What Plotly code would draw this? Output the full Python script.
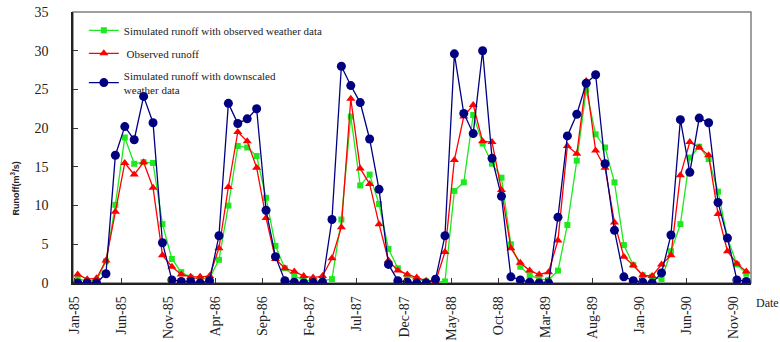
import plotly.graph_objects as go

tick_labels = ["Jan-85", "Jun-85", "Nov-85", "Apr-86", "Sep-86", "Feb-87", "Jul-87",
               "Dec-87", "May-88", "Oct-88", "Mar-89", "Aug-89", "Jan-90", "Jun-90", "Nov-90"]

sim_observed = [0.5, 0.3, 0.3, 2.8, 10.1, 18.8, 15.4, 15.6, 15.5, 7.6, 3.1, 1.4,
                0.7, 0.5, 0.6, 3.0, 10.0, 17.7, 17.5, 16.4, 11.0, 4.8, 1.9, 0.9,
                0.4, 0.2, 0.3, 0.5, 8.2, 21.5, 12.6, 14.0, 10.2, 4.4, 1.9, 0.9,
                0.5, 0.2, 0.1, 0.2, 11.9, 13.0, 21.7, 18.0, 15.4, 13.6, 5.0, 2.1,
                1.0, 0.5, 0.4, 1.6, 7.5, 15.8, 24.9, 19.2, 17.5, 13.0, 4.9, 2.3,
                1.0, 0.8, 0.5, 4.1, 7.6, 16.2, 17.6, 16.0, 11.8, 5.8, 2.4, 1.2]

observed = [1.1, 0.5, 0.6, 2.9, 9.2, 15.5, 14.0, 15.6, 12.3, 3.6, 2.1, 1.1,
            0.8, 0.8, 0.9, 4.5, 12.4, 19.5, 18.3, 14.9, 8.4, 3.1, 1.9, 1.5,
            0.9, 0.7, 0.9, 3.2, 7.2, 23.8, 14.8, 12.8, 7.6, 2.9, 1.6, 1.1,
            0.7, 0.3, 0.2, 4.0, 15.9, 21.5, 23.0, 18.3, 18.2, 12.0, 4.5, 2.6,
            1.6, 1.1, 1.4, 5.5, 17.7, 16.7, 26.1, 17.1, 14.9, 7.8, 3.4, 2.3,
            1.0, 0.9, 2.4, 3.6, 13.9, 18.2, 17.5, 16.5, 8.9, 4.1, 2.5, 1.5]

sim_downscaled = [0, 0, 0, 1.2, 16.5, 20.2, 18.5, 24.1, 20.7, 5.2, 0.4, 0.2,
                  0.2, 0, 0.3, 6.1, 23.2, 20.6, 21.2, 22.5, 9.4, 3.4, 0.3, 0.1,
                  0, 0.05, 0.1, 8.2, 28.0, 25.5, 23.3, 18.6, 12.1, 2.4, 0.3, 0.1,
                  0, 0, 0.5, 6.1, 29.6, 21.9, 19.3, 30.0, 16.1, 11.2, 0.8, 0.4,
                  0.1, 0, 0, 8.5, 19.0, 21.8, 25.8, 26.9, 15.4, 6.8, 0.8, 0.3,
                  0.1, 0, 1.3, 6.2, 21.1, 14.3, 21.3, 20.7, 10.4, 5.8, 0.4, 0.2]

n = len(observed)
x = list(range(n))
tick_step = 5
tickvals = [i * tick_step - 0.35 for i in range(len(tick_labels))]

serif = "Liberation Serif"

fig = go.Figure()
fig.add_trace(go.Scatter(
    x=x, y=sim_observed, mode="lines+markers",
    name="Simulated runoff with observed weather data", legendgroup="a",
    line=dict(color="#1ee81e", width=1.3),
    marker=dict(symbol="square", size=6, color="#1ee81e")))
fig.add_trace(go.Scatter(
    x=x, y=observed, mode="lines+markers",
    name=" Observed runoff", legendgroup="b",
    line=dict(color="#ff0000", width=1.3),
    marker=dict(symbol="triangle-up", size=8, color="#ff0000")))
fig.add_trace(go.Scatter(
    x=x, y=sim_downscaled, mode="lines+markers",
    name="Simulated runoff with downscaled<br>weather data", legendgroup="c",
    line=dict(color="#000080", width=1.3),
    marker=dict(symbol="circle", size=9, color="#000080")))

fig.update_layout(
    width=780, height=342,
    margin=dict(l=73, r=29, t=12, b=59, autoexpand=False),
    paper_bgcolor="white", plot_bgcolor="white",
    font=dict(family=serif, size=13, color="black"),
    showlegend=True,
    legend=dict(x=0.016, y=0.986, xanchor="left", yanchor="top",
                bgcolor="rgba(0,0,0,0)", font=dict(family=serif, size=11, color="#222"),
                itemwidth=30, traceorder="grouped", tracegroupgap=4),
    xaxis=dict(range=[-0.5, n - 0.5], tickmode="array", tickvals=tickvals,
               ticktext=tick_labels, tickangle=-90, ticks="inside", ticklen=5,
               tickcolor="#333", showline=True, linecolor="#222", linewidth=1.5,
               showgrid=False, zeroline=False, ticklabelstandoff=6, automargin=False,
               tickfont=dict(family=serif, size=14, color="#222")),
    yaxis=dict(range=[0, 35], dtick=5, ticks="inside", ticklen=5, tickcolor="#333",
               showline=True, linecolor="#222", linewidth=1.5, showgrid=False,
               zeroline=False, ticklabelstandoff=20, automargin=False,
               tickfont=dict(family=serif, size=14, color="#222")),
    shapes=[dict(type="rect", xref="paper", yref="paper", x0=0, y0=0, x1=1, y1=1,
                 line=dict(color="#808080", width=1.5), layer="below")],
    annotations=[
        dict(text="<b>Runoff(m<sup>3</sup>/s)</b>", xref="paper", yref="paper",
             x=-0.097, y=0.35, textangle=-90, showarrow=False,
             font=dict(family="Liberation Sans", size=9, color="#222")),
        dict(text="Date", xref="paper", yref="paper", x=1.005, y=-0.072,
             xanchor="left", yanchor="middle", showarrow=False,
             font=dict(family=serif, size=12, color="#222")),
    ],
)

fig.write_html("out.html", config={"displayModeBar": False},
               post_script="document.body.style.margin='0';")
